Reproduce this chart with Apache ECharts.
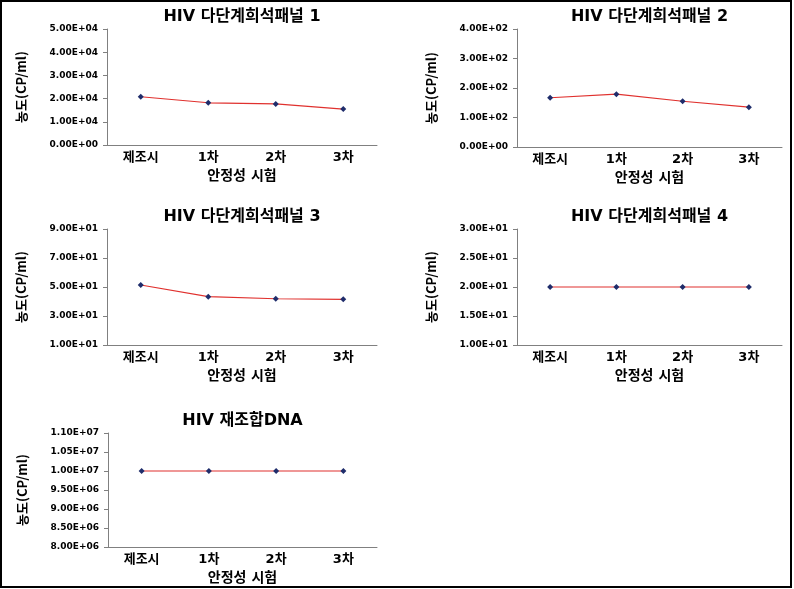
<!DOCTYPE html>
<html>
<head>
<meta charset="utf-8">
<script src="https://cdn.jsdelivr.net/npm/echarts@6/dist/echarts.min.js"></script>
<style>
  html, body { margin: 0; padding: 0; background: #fff; }
  #chart { width: 794px; height: 589px; }
</style>
</head>
<body>
<div id="chart"></div>
<script>
// 카테고리 / 데이터
var categories = ['제조시', '1차', '2차', '3차'];
var panel1 = [20800, 18200, 17700, 15500];
var panel2 = [167, 179, 155, 135];
var panel3 = [51.4, 43.3, 41.9, 41.5];
var panel4 = [20, 20, 20, 20];
var recombDna = [1.0e7, 1.0e7, 1.0e7, 1.0e7];

var titles = ['HIV 다단계희석패널 1', 'HIV 다단계희석패널 2', 'HIV 다단계희석패널 3', 'HIV 다단계희석패널 4', 'HIV 재조합DNA'];
var yMins = [0, 0, 10, 10, 8.0e6];
var yMaxs = [5.0e4, 4.0e2, 90, 30, 1.1e7];
var yIntervals = [1.0e4, 1.0e2, 20, 5, 5.0e5];
var seriesData = [panel1, panel2, panel3, panel4, recombDna];

var yName = '농도(CP/ml)';
var xName = '안정성 시험';

var FONT = '"DejaVu Sans", "Noto Sans CJK KR", sans-serif';
var FONT_KR = '"Noto Sans CJK KR", sans-serif';

// 5.00E+04 형식
function sci(v) {
  var s = Number(v).toExponential(2).toUpperCase();
  var parts = s.split('E');
  var e = parseInt(parts[1], 10);
  var a = Math.abs(e);
  return parts[0] + 'E' + (e < 0 ? '-' : '+') + (a < 10 ? '0' + a : a);
}

// 패널 위치
var grids = [
  {left: 107, top: 29, width: 270, height: 116},
  {left: 517, top: 29, width: 265, height: 118},
  {left: 107, top: 229, width: 270, height: 116},
  {left: 517, top: 229, width: 265, height: 116},
  {left: 108, top: 433, width: 269, height: 114}
];

var option = {
  backgroundColor: '#fff',
  animation: false,
  title: [],
  grid: [],
  xAxis: [],
  yAxis: [],
  series: [],
  graphic: [{
    type: 'rect',
    shape: {x: 1, y: 1, width: 790, height: 586},
    style: {fill: 'none', stroke: '#000', lineWidth: 2}
  }]
};

grids.forEach(function (g, i) {
  option.grid.push({left: g.left, top: g.top, width: g.width, height: g.height, containLabel: false});
  option.title.push({
    text: titles[i],
    left: g.left + g.width / 2 - 5,
    top: g.top - 25,
    textAlign: 'center',
    textStyle: {fontFamily: FONT, fontSize: 16, fontWeight: 'bold', color: '#000'}
  });
  option.xAxis.push({
    type: 'category',
    gridIndex: i,
    data: categories,
    boundaryGap: true,
    name: xName,
    nameLocation: 'middle',
    nameGap: 24,
    nameTextStyle: {fontFamily: FONT, fontSize: 14, fontWeight: 'bold', color: '#000'},
    axisLine: {lineStyle: {color: '#808080', width: 1}},
    axisTick: {alignWithLabel: true, length: 4, lineStyle: {color: '#808080'}},
    axisLabel: {fontFamily: FONT, fontSize: 13, fontWeight: 'bold', color: '#000', margin: 6}
  });
  option.yAxis.push({
    type: 'value',
    gridIndex: i,
    min: yMins[i],
    max: yMaxs[i],
    interval: yIntervals[i],
    name: yName,
    nameLocation: 'middle',
    nameGap: 79,
    nameTextStyle: {fontFamily: FONT_KR, fontSize: 13, fontWeight: 'bold', color: '#000'},
    axisLine: {show: true, lineStyle: {color: '#808080', width: 1}},
    axisTick: {show: true, length: 4, lineStyle: {color: '#808080'}},
    splitLine: {show: false},
    axisLabel: {
      fontFamily: FONT, fontSize: 9, fontWeight: 'bold', color: '#000', margin: 9,
      formatter: function (v) { return sci(v); }
    }
  });
  option.series.push({
    type: 'line',
    xAxisIndex: i,
    yAxisIndex: i,
    data: seriesData[i],
    symbol: 'diamond',
    symbolSize: 6,
    itemStyle: {color: '#1f2d6b'},
    lineStyle: {color: '#e0312e', width: 1.2}
  });
});

var chart = echarts.init(document.getElementById('chart'));
chart.setOption(option);
</script>
</body>
</html>
